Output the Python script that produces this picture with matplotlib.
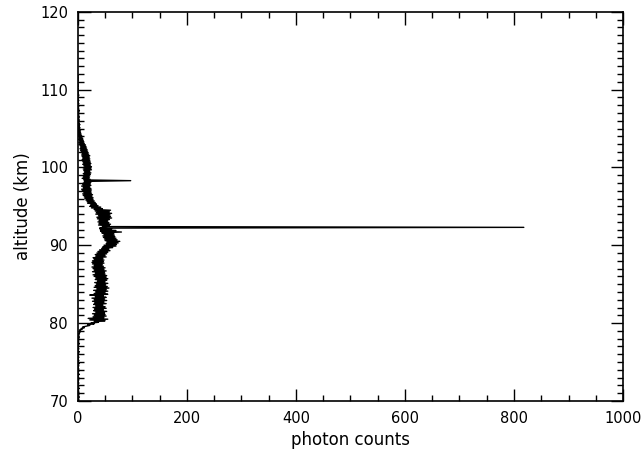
import numpy as np
import matplotlib
matplotlib.use('Agg')
import matplotlib.pyplot as plt
from matplotlib.ticker import MultipleLocator

# altitude grid, 0.1 km bins from 70.0 km
alt_start = 70.0
alt_step = 0.1

# photon counts per bin, one row per km
counts = [
    1, 0, 2, 0, 1, 3, 0, 1, 2, 0,        # 70
    0, 2, 1, 0, 1, 0, 3, 1, 0, 2,        # 71
    1, 0, 1, 2, 0, 1, 0, 2, 1, 0,        # 72
    2, 0, 1, 0, 3, 1, 0, 1, 2, 0,        # 73
    1, 2, 0, 1, 0, 2, 1, 0, 3, 1,        # 74
    0, 1, 2, 0, 1, 0, 2, 1, 0, 1,        # 75
    2, 1, 0, 3, 1, 0, 1, 2, 0, 1,        # 76
    1, 0, 2, 1, 3, 0, 1, 2, 1, 0,        # 77
    2, 1, 3, 1, 2, 0, 3, 2, 4, 2,        # 78
    5, 3, 8, 6, 12, 9, 16, 22, 18, 30,   # 79
    24, 38, 30, 50, 22, 55, 19, 48, 28, 52,   # 80
    30, 50, 27, 49, 33, 53, 29, 47, 31, 52,   # 81
    28, 50, 33, 46, 29, 52, 31, 48, 27, 53,   # 82
    30, 49, 26, 52, 32, 47, 22, 55, 30, 50,   # 83
    33, 55, 29, 52, 35, 57, 30, 54, 32, 51,   # 84
    34, 55, 31, 50, 36, 53, 32, 55, 33, 52,   # 85
    30, 53, 28, 50, 32, 49, 27, 52, 30, 48,   # 86
    28, 50, 26, 47, 30, 45, 27, 48, 26, 47,   # 87
    27, 48, 30, 46, 28, 52, 33, 50, 32, 53,   # 88
    35, 55, 37, 59, 40, 57, 44, 64, 46, 70,   # 89
    48, 71, 52, 74, 53, 77, 50, 72, 49, 70,   # 90
    47, 68, 46, 67, 48, 66, 44, 80, 42, 70,   # 91
    41, 62, 40, 818, 45, 58, 38, 60, 39, 57,  # 92
    37, 55, 39, 58, 36, 62, 35, 60, 38, 59,   # 93
    33, 62, 34, 58, 32, 60, 30, 45, 25, 42,   # 94
    22, 37, 24, 34, 18, 32, 17, 30, 15, 28,   # 95
    13, 28, 12, 26, 10, 27, 9, 25, 11, 24,    # 96
    8, 25, 7, 24, 10, 22, 7, 24, 9, 23,       # 97
    10, 24, 12, 97, 11, 22, 8, 21, 10, 22,    # 98
    11, 23, 10, 24, 12, 22, 11, 25, 10, 24,   # 99
    12, 25, 11, 23, 9, 24, 10, 23, 9, 22,     # 100
    8, 22, 9, 21, 8, 22, 7, 20, 8, 19,        # 101
    6, 18, 5, 17, 4, 16, 5, 15, 4, 14,        # 102
    3, 12, 2, 11, 3, 10, 1, 9, 2, 8,          # 103
    1, 7, 0, 6, 1, 5, 0, 5, 1, 4,             # 104
    0, 4, 1, 3, 0, 4, 1, 3, 0, 2,             # 105
    1, 3, 0, 2, 1, 3, 0, 2, 1, 2,             # 106
    0, 2, 1, 3, 0, 2, 1, 0, 2, 1,             # 107
    0, 1, 2, 0, 1, 0, 2, 1, 0, 1,             # 108
    1, 0, 1, 2, 0, 1, 0, 1, 0, 1,             # 109
    0, 1, 0, 0, 1, 0, 1, 0, 0, 1,             # 110
    0, 0, 1, 0, 0, 1, 0, 0, 1, 0,             # 111
]

counts = np.array(counts, dtype=float)
alt = alt_start + alt_step*np.arange(len(counts))

plt.rcParams['font.family'] = 'DejaVu Sans'

fig = plt.figure(figsize=(6.43, 4.54), dpi=100)
ax = fig.add_axes([0.121, 0.117, 0.848, 0.857])

ax.plot(counts, alt, color='black', lw=1.0)

ax.set_xlim(0, 1000)
ax.set_ylim(70, 120)
ax.xaxis.set_major_locator(MultipleLocator(200))
ax.xaxis.set_minor_locator(MultipleLocator(50))
ax.yaxis.set_major_locator(MultipleLocator(10))
ax.yaxis.set_minor_locator(MultipleLocator(1))
ax.tick_params(which='both', direction='in', top=True, right=True,
               labelsize=10.5, width=1.0)
ax.tick_params(which='major', length=9, pad=7)
ax.tick_params(which='minor', length=4.5)
for s in ax.spines.values():
    s.set_linewidth(1.2)

ax.set_xlabel('photon counts', fontsize=12)
ax.set_ylabel('altitude (km)', fontsize=12, labelpad=6)

plt.savefig('out.png', dpi=100)
